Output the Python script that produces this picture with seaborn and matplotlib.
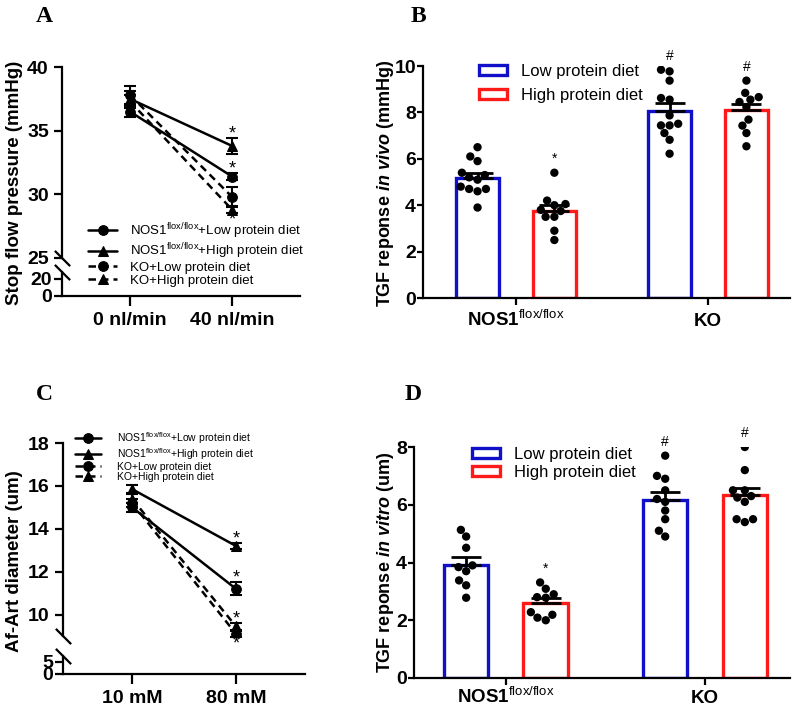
import pandas as pd
import matplotlib.pyplot as plt
import seaborn as sns

# PANEL A - stop flow pressure (mean, SEM)
a_doses = ["0 nl/min", "40 nl/min"]
a_flox_low = [36.5, 31.4]
a_flox_low_sem = [0.4, 0.3]
a_flox_high = [37.5, 33.8]
a_flox_high_sem = [0.6, 0.6]
a_ko_low = [37.8, 29.8]
a_ko_low_sem = [0.7, 0.8]
a_ko_high = [37.3, 28.8]
a_ko_high_sem = [0.5, 0.3]
a_star_side = [1, 1, 1, -1]

# PANEL C - afferent arteriole diameter (mean, SEM)
c_doses = ["10 mM", "80 mM"]
c_flox_low = [15.0, 11.2]
c_flox_low_sem = [0.2, 0.3]
c_flox_high = [15.85, 13.2]
c_flox_high_sem = [0.2, 0.15]
c_ko_low = [15.2, 9.1]
c_ko_low_sem = [0.2, 0.15]
c_ko_high = [15.4, 9.45]
c_ko_high_sem = [0.2, 0.15]
c_star_side = [1, 1, -1, 1]

series = [
    "NOS1$^{\\mathrm{flox/flox}}$+Low protein diet",
    "NOS1$^{\\mathrm{flox/flox}}$+High protein diet",
    "KO+Low protein diet",
    "KO+High protein diet",
]

# PANEL B - TGF response in vivo (individual animals)
genotypes = ["NOS1$^{\\mathrm{flox/flox}}$", "KO"]
diets = ["Low protein diet", "High protein diet"]
b_flox_low = [6.5, 6.1, 5.9, 5.4, 5.3, 5.2, 5.1, 4.8, 4.7, 4.7, 4.6, 3.9]
b_flox_high = [5.4, 4.2, 4.05, 4.0, 3.8, 3.75, 3.5, 3.5, 2.9, 2.5]
b_ko_low = [9.84, 9.77, 9.37, 8.62, 8.55, 7.87, 7.44, 7.44, 7.51, 7.11, 6.82, 6.22]
b_ko_high = [9.37, 8.84, 8.45, 8.66, 8.55, 8.23, 7.69, 7.43, 7.11, 6.54]

# PANEL D - TGF response in vitro (individual vessels)
d_flox_low = [5.13, 4.9, 4.51, 3.84, 3.9, 3.7, 3.38, 3.21, 2.78]
d_flox_high = [3.31, 3.09, 2.8, 2.78, 2.9, 2.28, 2.19, 2.09, 2.0]
d_ko_low = [7.7, 7.0, 6.9, 6.5, 6.2, 6.1, 5.8, 5.5, 5.1, 4.9]
d_ko_high = [8.0, 7.2, 6.5, 6.5, 6.3, 6.25, 6.1, 5.5, 5.5, 5.4]

# significance marks: (genotype index, diet index, symbol)
bar_marks = [(0, 1, "*"), (1, 0, "#"), (1, 1, "#")]

diet_colors = {"Low protein diet": "#1010c8", "High protein diet": "#ff1a1a"}
marker_map = dict(zip(series, ["o", "^", "o", "^"]))
dash_map = dict(zip(series, ["", "", (3, 2), (3, 2)]))

sns.set_theme(style="ticks", rc={
    "axes.edgecolor": "black", "xtick.color": "black", "ytick.color": "black",
    "text.color": "black", "axes.labelcolor": "black",
    "axes.linewidth": 1.6, "xtick.major.width": 1.6, "ytick.major.width": 1.6,
    "xtick.major.size": 6, "ytick.major.size": 6,
})
plt.rcParams["font.family"] = ["Liberation Sans", "DejaVu Sans"]
plt.rcParams["mathtext.fontset"] = "custom"
plt.rcParams["mathtext.rm"] = "Liberation Sans"
plt.rcParams["mathtext.it"] = "Liberation Sans:italic:bold"
plt.rcParams["mathtext.bf"] = "Liberation Sans:bold"

W, H = 800, 708
fig = plt.figure(figsize=(W / 100, H / 100), dpi=100)


def rect(l, t, r, b):
    return [l / W, 1 - b / H, (r - l) / W, (b - t) / H]


def line_df(means, sems):
    rows = []
    for name, m, s in zip(series, means, sems):
        for i in range(len(m)):
            rows.append({"dose": i, "mean": m[i], "sem": s[i], "group": name})
    return pd.DataFrame(rows)


def bar_df(values):
    rows = []
    for gi, geno in enumerate(genotypes):
        for di, diet in enumerate(diets):
            for v in values[gi * 2 + di]:
                rows.append({"genotype": geno, "diet": diet, "value": v})
    return pd.DataFrame(rows)


def bold_ticks(ax, size):
    for lbl in ax.get_xticklabels() + ax.get_yticklabels():
        lbl.set_fontweight("bold")
        lbl.set_fontsize(size)
    # put x labels on a common baseline (superscript labels are taller)
    for lbl in ax.get_xticklabels():
        lbl.set_verticalalignment("baseline")


def line_panel(ax_top, ax_bot, df, doses, star_side, top_lim, top_ticks, bot_lim, bot_ticks, leg_kw):
    sns.lineplot(data=df, x="dose", y="mean", style="group", style_order=series,
                 markers=marker_map, dashes=dash_map, color="black", linewidth=1.8,
                 markersize=7, markeredgecolor="black", errorbar=None, ax=ax_top)
    for (name, g), side in zip(df.groupby("group", sort=False), star_side):
        ax_top.errorbar(g["dose"], g["mean"], yerr=g["sem"], fmt="none", ecolor="black",
                        elinewidth=1.5, capsize=4, capthick=1.5, clip_on=False)
        last = g.iloc[-1]
        ax_top.annotate("*", (last["dose"], last["mean"] + side * last["sem"]),
                        xytext=(0, 3 if side > 0 else -5), textcoords="offset points",
                        ha="center", va="center", fontsize=13, annotation_clip=False)
    sns.move_legend(ax_top, "upper left", title=None, frameon=False,
                    bbox_transform=fig.transFigure, borderpad=0, borderaxespad=0,
                    **leg_kw)

    for ax in (ax_top, ax_bot):
        ax.set_xlim(-0.665, 1.665)
        ax.set_xlabel("")
        ax.set_ylabel("")
        ax.spines[["top", "right"]].set_visible(False)
    ax_top.set_ylim(*top_lim)
    ax_top.set_yticks(top_ticks)
    ax_top.spines["bottom"].set_visible(False)
    ax_top.tick_params(axis="x", bottom=False, labelbottom=False)
    ax_bot.set_ylim(*bot_lim)
    ax_bot.set_yticks(bot_ticks)
    ax_bot.set_xticks(range(len(doses)))
    ax_bot.set_xticklabels(doses)
    ax_bot.tick_params(axis="y", pad=1)
    ax_bot.tick_params(axis="x", pad=14, length=7)
    ax_bot.set_facecolor("none")
    bold_ticks(ax_top, 14)
    bold_ticks(ax_bot, 14)

    # axis break marks
    brk = dict(marker=[(-1, 1), (1, -1)], markersize=11, linestyle="none",
               color="black", mec="black", mew=1.6, clip_on=False)
    ax_top.plot([0], [0], transform=ax_top.transAxes, **brk)
    ax_bot.plot([0], [1], transform=ax_bot.transAxes, **brk)


def bar_panel(ax, df, xlim, ylim, yticks, leg_anchor, leg_spacing):
    sns.barplot(data=df, x="genotype", y="value", hue="diet", order=genotypes,
                hue_order=diets, palette=diet_colors, fill=False, errorbar=None,
                width=0.8, gap=0.44, linewidth=2.4, ax=ax)
    sns.swarmplot(data=df, x="genotype", y="value", hue="diet", order=genotypes,
                  hue_order=diets, palette={d: "black" for d in diets}, dodge=True,
                  size=6, legend=False, ax=ax)
    stats = df.groupby(["genotype", "diet"])["value"].agg(["mean", "sem", "max"])
    for gi, geno in enumerate(genotypes):
        for di, diet in enumerate(diets):
            m, s, _ = stats.loc[(geno, diet)]
            x = gi + (di - 0.5) * 0.4
            ax.errorbar([x], [m], yerr=[[0], [s]], fmt="none", ecolor="black",
                        elinewidth=2, capsize=11, capthick=2, zorder=5)
    for gi, di, sym in bar_marks:
        top = stats.loc[(genotypes[gi], diets[di]), "max"]
        ax.annotate(sym, (gi + (di - 0.5) * 0.4, top), xytext=(0, 5),
                    textcoords="offset points", ha="center", va="bottom",
                    fontsize=10, annotation_clip=False)
    sns.move_legend(ax, "upper left", bbox_to_anchor=leg_anchor, title=None,
                    frameon=False, bbox_transform=fig.transFigure, fontsize=12,
                    borderpad=0, borderaxespad=0, handlelength=1.7, handleheight=0.55,
                    handletextpad=0.8, labelspacing=leg_spacing)
    ax.set_xlim(*xlim)
    ax.set_ylim(*ylim)
    ax.set_yticks(yticks)
    ax.set_xlabel("")
    ax.set_ylabel("")
    ax.tick_params(axis="y", pad=1, length=4)
    ax.tick_params(axis="x", pad=15, length=5)
    ax.spines[["top", "right"]].set_visible(False)
    bold_ticks(ax, 14)
    for lbl in ax.get_xticklabels():
        lbl.set_fontsize(13.5)


# PANEL A
ax_a = fig.add_axes(rect(62, 67, 300, 258))
ax_a2 = fig.add_axes(rect(62, 272, 300, 296))
line_panel(ax_a, ax_a2,
           line_df([a_flox_low, a_flox_high, a_ko_low, a_ko_high],
                   [a_flox_low_sem, a_flox_high_sem, a_ko_low_sem, a_ko_high_sem]),
           a_doses, a_star_side, (25, 40), [25, 30, 35, 40], (0, 28), [0, 20],
           dict(bbox_to_anchor=(88 / W, 1 - 221 / H), fontsize=9.5,
                handlelength=2.2, handletextpad=1.0, labelspacing=0.05))

# PANEL B
ax_b = fig.add_axes(rect(423, 66, 790, 298))
bar_panel(ax_b, bar_df([b_flox_low, b_flox_high, b_ko_low, b_ko_high]),
          (-0.484, 1.427), (0, 10), [0, 2, 4, 6, 8, 10],
          (479 / W, 1 - 64 / H), 0.55)

# PANEL C
ax_c = fig.add_axes(rect(63, 443, 305, 636))
ax_c2 = fig.add_axes(rect(63, 656, 305, 674))
line_panel(ax_c, ax_c2,
           line_df([c_flox_low, c_flox_high, c_ko_low, c_ko_high],
                   [c_flox_low_sem, c_flox_high_sem, c_ko_low_sem, c_ko_high_sem]),
           c_doses, c_star_side, (9, 18), [10, 12, 14, 16, 18], (0, 7.5), [0, 5],
           dict(bbox_to_anchor=(75 / W, 1 - 430 / H), fontsize=7.5,
                handlelength=2.5, handletextpad=1.5, labelspacing=0.0))

# PANEL D
ax_d = fig.add_axes(rect(414, 447, 790, 678))
bar_panel(ax_d, bar_df([d_flox_low, d_flox_high, d_ko_low, d_ko_high]),
          (-0.462, 1.427), (0, 8), [0, 2, 4, 6, 8],
          (472 / W, 1 - 447 / H), 0.2)
ax_d.tick_params(axis="x", pad=13)

# Y LABELS
ylab = dict(rotation=90, ha="center", va="center", fontweight="bold")
fig.text(15 / W, 1 - 183 / H, "Stop flow pressure (mmHg)", fontsize=13.5, **ylab)
fig.text(385 / W, 1 - 183 / H, "TGF reponse $\\mathit{in\\ vivo}$ (mmHg)", fontsize=13, **ylab)
fig.text(15 / W, 1 - 561 / H, "Af-Art diameter (um)", fontsize=13.5, **ylab)
fig.text(385 / W, 1 - 562 / H, "TGF reponse $\\mathit{in\\ vitro}$ (um)", fontsize=13, **ylab)

# PANEL LETTERS
letter = dict(ha="center", va="center", fontsize=17, fontweight="bold",
              family="Liberation Serif")
fig.text(44 / W, 1 - 16 / H, "A", **letter)
fig.text(418 / W, 1 - 16 / H, "B", **letter)
fig.text(44 / W, 1 - 395 / H, "C", **letter)
fig.text(413 / W, 1 - 394 / H, "D", **letter)

fig.savefig("out.png", dpi=100)
